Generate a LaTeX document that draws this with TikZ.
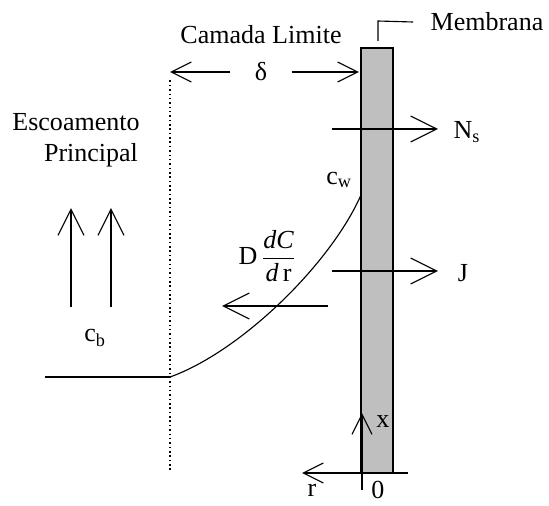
\documentclass[tikz,border=0pt]{standalone}
\usepackage{amsmath}
\usepackage{fontspec}
\setmainfont{Liberation Serif}
\usetikzlibrary{arrows.meta,positioning}

\begin{document}
\begin{tikzpicture}[x=0.025cm, y=-0.025cm, line width=0.8pt,
  every node/.style={font=\fontsize{18.5}{21}\selectfont, inner sep=0pt},
  bigarrow/.style={-{Straight Barb[length=6.5mm,width=6.5mm]}},
  smallarrow/.style={-{Straight Barb[length=5mm,width=5mm]}}]
  \useasboundingbox (0,0) rectangle (549,506);

  % Membrane
  \draw[fill=gray!50] (361,48) rectangle (393,473);
  \coordinate (brk) at (378,41);
  \node (memb) at (487,22) {Membrana};
  \draw (brk) -- (378,21) -- ([xshift=-12pt]memb.west);

  % Boundary layer
  \node (camada) at (261,35) {Camada Limite};
  \node (delta) at (261,72) {δ};
  \coordinate (edgeT) at (170,72);
  \coordinate (edgeB) at (170,472);
  \coordinate (wallT) at (359,72);
  \draw[smallarrow] ([xshift=-0.6cm]delta.west) -- (edgeT);
  \draw[smallarrow] ([xshift=0.6cm]delta.east) -- (wallT);
  \draw[dotted, line width=1.1pt] ([yshift=-6pt]edgeT) -- (edgeB);

  % Bulk flow
  \node (esc) at (76,122) {Escoamento};
  \node (princ) at (91,155) {Principal};
  \coordinate (u1a) at (71,307);
  \coordinate (u1b) at (71,208);
  \coordinate (u2a) at (111,307);
  \coordinate (u2b) at (111,208);
  \draw[bigarrow] (u1a) -- (u1b);
  \draw[bigarrow] (u2a) -- (u2b);
  \node (cb) at (95,338) {c$_{\text{b}}$};

  % Concentration profile
  \coordinate (base) at (45,377);
  \coordinate (knee) at (170,377);
  \coordinate (wall) at (361,195);
  \draw (base) -- (knee);
  \draw (knee) .. controls (240,352) and (330,265) .. (wall);
  \node (cw) at (339,180) {c$_{\text{w}}$};

  % Fluxes
  \node (Ns) at (467,132) {N$_{\text{s}}$};
  \node (J) at (463,273) {J};
  \node (diff) at (267,256) {D\,$\dfrac{\textit{dC}}{\textit{d}\,\text{r}}$};
  \coordinate (ns0) at (332,129);
  \coordinate (ns1) at (438,129);
  \coordinate (j0) at (332,271);
  \coordinate (j1) at (438,271);
  \coordinate (d0) at (328,306);
  \coordinate (d1) at (222,306);
  \draw[bigarrow] (ns0) -- (ns1);
  \draw[bigarrow] (j0) -- (j1);
  \draw[bigarrow] (d0) -- (d1);

  % Axes
  \coordinate (orig) at (362,473);
  \coordinate (xtip) at (362,413);
  \coordinate (rtip) at (302,473);
  \draw[smallarrow] (orig) -- (xtip);
  \draw[smallarrow] (408,473) -- (rtip);
  \draw (orig) -- (362,490);
  \node (xlab) at (383,422) {x};
  \node (zero) at (378,490) {0};
  \node (rlab) at (312,490) {r};
\end{tikzpicture}
\end{document}
